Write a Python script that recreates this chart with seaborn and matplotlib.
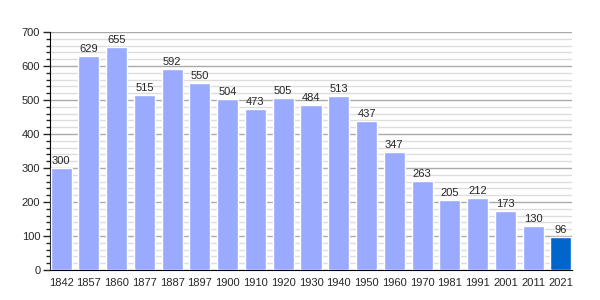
import matplotlib
matplotlib.use("Agg")
import matplotlib.pyplot as plt
import seaborn as sns
import pandas as pd
from matplotlib.ticker import MultipleLocator

years = ["1842", "1857", "1860", "1877", "1887", "1897", "1900", "1910", "1920", "1930",
         "1940", "1950", "1960", "1970", "1981", "1991", "2001", "2011", "2021"]
population = [300, 629, 655, 515, 592, 550, 504, 473, 505, 484,
              513, 437, 347, 263, 205, 212, 173, 130, 96]

df = pd.DataFrame({"year": years, "pop": population})
colors = ["#99aaff"] * (len(years) - 1) + ["#0066cc"]

sns.set_style("white")
plt.rcParams['font.family'] = ['Liberation Sans', 'DejaVu Sans']

fig = plt.figure(figsize=(6, 3), dpi=100)
ax = fig.add_axes([50/600, 30/300, 522/600, 238/300])

sns.barplot(data=df, x="year", y="pop", hue="year", palette=colors, legend=False,
            width=0.76, saturation=1, ax=ax, zorder=3)

ax.set_ylim(0, 700)
ax.set_xlim(-0.4, 18.4)
ax.yaxis.set_major_locator(MultipleLocator(100))
ax.yaxis.set_minor_locator(MultipleLocator(20))
ax.grid(which="major", axis="y", color="#aaaaaa", linewidth=1, zorder=0)
ax.grid(which="minor", axis="y", color="#dddddd", linewidth=1, zorder=0)
ax.set_axisbelow(True)
ax.set_xlabel("")
ax.set_ylabel("")
for s in ["top", "right"]:
    ax.spines[s].set_visible(False)
ax.spines["left"].set_color("black")
ax.spines["bottom"].set_color("black")
ax.tick_params(axis="y", which="major", left=True, length=5, width=1, labelsize=8, pad=2)
ax.tick_params(axis="y", which="minor", left=True, length=3, width=1)
ax.tick_params(axis="x", bottom=False, labelsize=8, pad=2)

for i, v in enumerate(population):
    ax.text(i, v + 6, str(v), ha="center", va="bottom", fontsize=8, zorder=4)

fig.savefig("out.png", dpi=100)
